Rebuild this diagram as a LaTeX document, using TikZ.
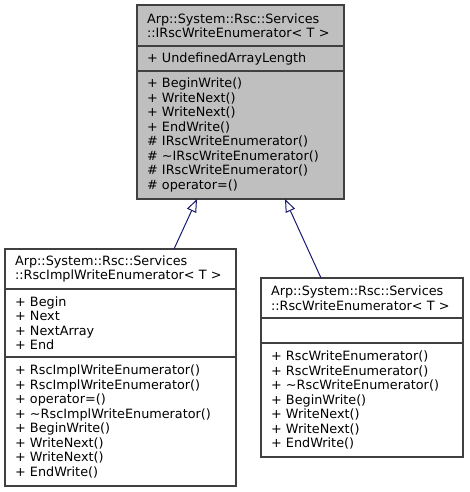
\documentclass[tikz,border=0pt]{standalone}
\usepackage{fontspec}
\setmainfont{DejaVu Sans}
\usetikzlibrary{positioning,arrows.meta}
\definecolor{midnightblue}{HTML}{191970}
\definecolor{gray25}{HTML}{404040}
\definecolor{gray75}{HTML}{BFBFBF}

\begin{document}
\begin{tikzpicture}[x=1pt,y=-1pt,
    part/.style={rectangle, draw=gray25, line width=1.2pt, inner xsep=10pt, inner ysep=0pt,
      outer sep=0pt, align=left, font=\fontsize{12.8}{14.5}\selectfont},
    inherit/.style={midnightblue, line width=1pt,
      -{Triangle[open, fill=white, length=13pt, width=10pt]}}]
  \useasboundingbox (0,0) rectangle (469,492);

  \node [part, anchor=north west, fill=gray75, text width=187pt, minimum height=41pt] (base-t) at (137,5)
    {Arp::System::Rsc::Services\\::IRscWriteEnumerator< T >};
  \node [part, below=0pt of base-t, fill=gray75, text width=187pt, minimum height=25pt] (base-a)
    {+ UndefinedArrayLength};
  \node [part, below=0pt of base-a, fill=gray75, text width=187pt, minimum height=128pt] (base-m)
    {+ BeginWrite()\\+ WriteNext()\\+ WriteNext()\\+ EndWrite()\\\# IRscWriteEnumerator()\\
     \# \textasciitilde IRscWriteEnumerator()\\\# IRscWriteEnumerator()\\\# operator=()};

  \node [part, anchor=north west, fill=white, text width=211pt, minimum height=40pt] (impl-t) at (5,249)
    {Arp::System::Rsc::Services\\::RscImplWriteEnumerator< T >};
  \node [part, below=0pt of impl-t, fill=white, text width=211pt, minimum height=68pt] (impl-a)
    {+ Begin\\+ Next\\+ NextArray\\+ End};
  \node [part, below=0pt of impl-a, fill=white, text width=211pt, minimum height=129pt] (impl-m)
    {+ RscImplWriteEnumerator()\\+ RscImplWriteEnumerator()\\+ operator=()\\
     + \textasciitilde RscImplWriteEnumerator()\\+ BeginWrite()\\+ WriteNext()\\+ WriteNext()\\+ EndWrite()};

  \node [part, anchor=north west, fill=white, text width=182pt, minimum height=40pt] (rsc-t) at (261,278)
    {Arp::System::Rsc::Services\\::RscWriteEnumerator< T >};
  \node [part, below=0pt of rsc-t, fill=white, text width=182pt, minimum height=25pt] (rsc-a) {};
  \node [part, below=0pt of rsc-a, fill=white, text width=182pt, minimum height=114pt] (rsc-m)
    {+ RscWriteEnumerator()\\+ RscWriteEnumerator()\\+ \textasciitilde RscWriteEnumerator()\\
     + BeginWrite()\\+ WriteNext()\\+ WriteNext()\\+ EndWrite()};

  \draw [inherit] ([xshift=53.5pt]impl-t.north) -- ([xshift=-43.5pt]base-m.south);
  \draw [inherit] ([xshift=-41pt]rsc-t.north) -- ([xshift=44.5pt]base-m.south);
\end{tikzpicture}
\end{document}
